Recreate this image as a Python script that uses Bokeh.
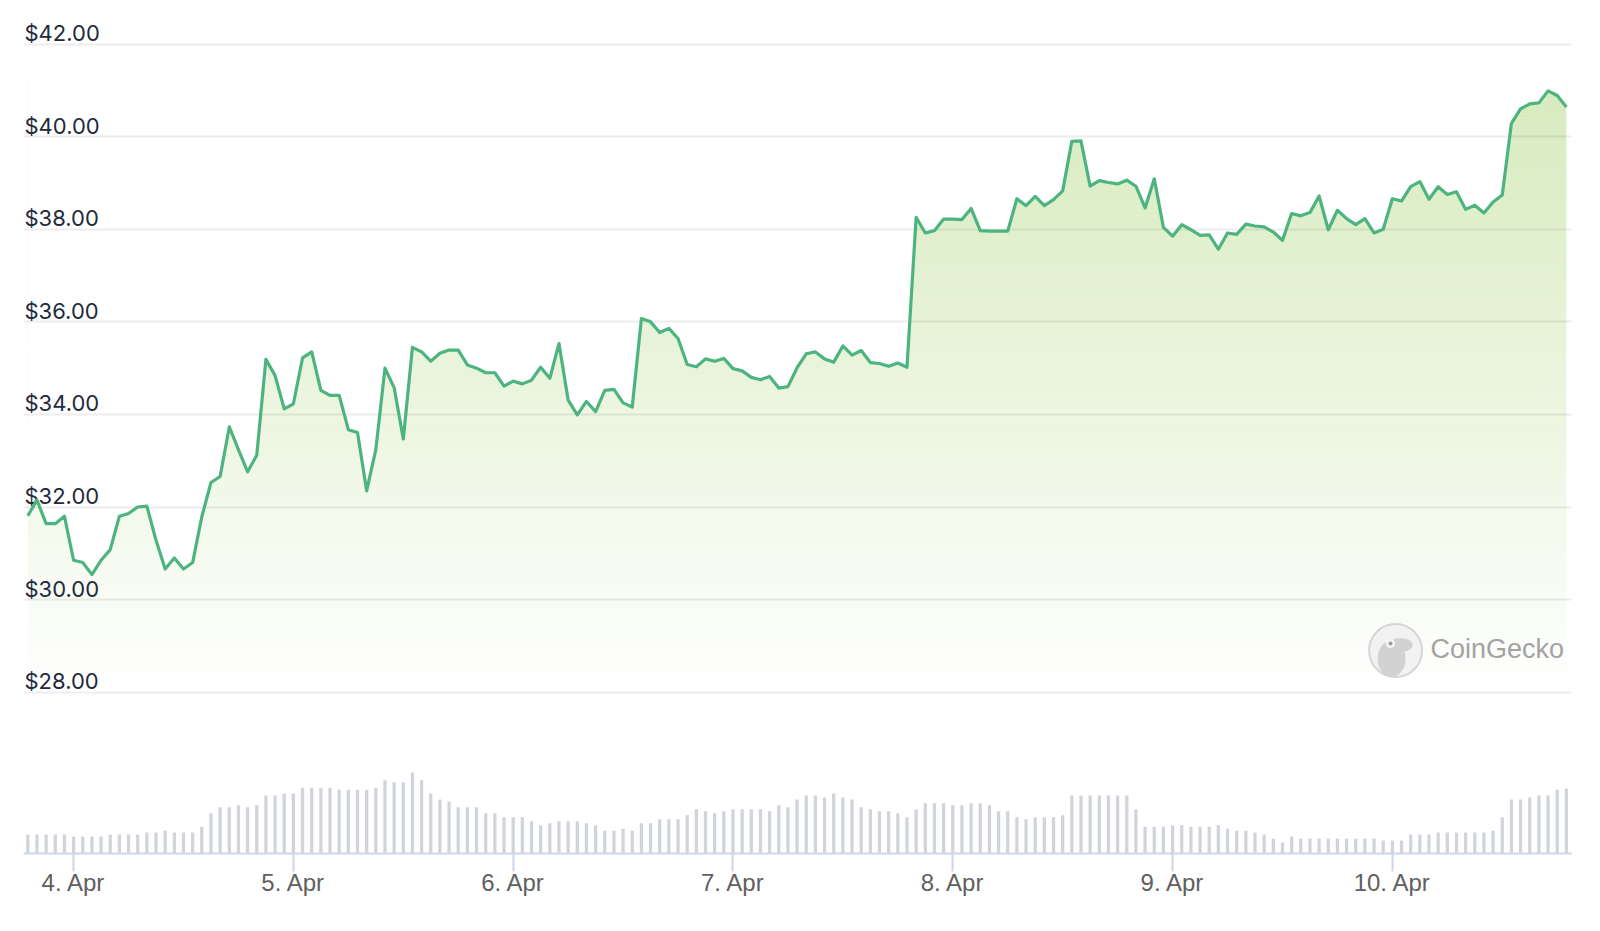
import pandas as pd
from bokeh.plotting import figure
from bokeh.models import Range1d, Grid, FixedTicker, DaysTicker, DatetimeTickFormatter
from bokeh.core.properties import value
from bokeh.embed import file_html
from bokeh.resources import INLINE

# ---------------- data (hourly, 3 Apr 19:00 -> 10 Apr 19:00) ----------------
start_time = "2024-04-03 19:00"

prices = [
    31.81, 32.15, 31.64, 31.64, 31.80, 30.85, 30.80, 30.54, 30.85, 31.08,
    31.80, 31.86, 32.00, 32.02, 31.28, 30.66, 30.90, 30.66, 30.80, 31.79,
    32.53, 32.66, 33.73, 33.24, 32.76, 33.12, 35.19, 34.84, 34.12, 34.23,
    35.22, 35.35, 34.52, 34.41, 34.41, 33.67, 33.61, 32.35, 33.24, 35.00,
    34.58, 33.47, 35.45, 35.35, 35.15, 35.32, 35.39, 35.39,
    35.07, 35.00, 34.90, 34.90, 34.61, 34.72, 34.66, 34.74, 35.02, 34.78,
    35.53, 34.31, 33.99, 34.28, 34.06, 34.52, 34.54, 34.25, 34.16, 36.07,
    36.00, 35.77, 35.86, 35.64, 35.08, 35.03, 35.20, 35.15, 35.21, 34.99,
    34.94, 34.80, 34.75, 34.82, 34.57, 34.60, 35.01, 35.31, 35.35, 35.20,
    35.13, 35.48, 35.28, 35.38, 35.12, 35.10, 35.04, 35.11, 35.02,
    38.26, 37.92, 37.97, 38.22, 38.22, 38.21, 38.45, 37.97, 37.96, 37.96,
    37.96, 38.66, 38.51, 38.71, 38.51, 38.64, 38.83, 39.90, 39.91, 38.93,
    39.05, 39.01, 38.98, 39.06, 38.93, 38.46, 39.09, 38.04, 37.85, 38.10,
    37.99, 37.87, 37.88, 37.57, 37.92, 37.89, 38.11, 38.07, 38.05, 37.94,
    37.76, 38.34, 38.29, 38.36, 38.72, 37.99, 38.41, 38.23, 38.10, 38.23,
    37.92, 38.00, 38.66, 38.61, 38.92, 39.03, 38.65, 38.92, 38.75, 38.81,
    38.43, 38.52, 38.35, 38.59, 38.74,
    40.29, 40.60, 40.71, 40.73, 40.99, 40.89, 40.64,
]

volumes = [
    57, 57, 57, 57, 57, 51, 51, 51, 51, 57,
    57, 57, 57, 63, 63, 69, 63, 63, 63, 80,
    121, 139, 139, 145, 139, 145, 174, 174, 180, 180,
    197, 197, 197, 197, 191, 191, 191, 191, 197, 220,
    214, 214, 243, 220, 180, 162, 156, 139, 139, 139,
    121, 121, 109, 109, 109, 97, 85,
    91, 97, 97, 97, 91, 85, 68, 68, 74, 68,
    91, 91, 103, 103, 103, 115, 133, 127, 121, 127,
    133, 133, 133, 133, 127, 145, 139, 162, 174, 174,
    168, 180, 168, 162, 139, 133, 127, 127, 121, 109,
    133, 151, 151, 151, 145, 145, 151, 151, 145, 127,
    127, 109, 103, 109, 109, 109,
    115, 174, 174, 174, 174, 174, 174, 174, 133, 80,
    80, 80, 85, 85, 80, 80, 80, 85, 74, 68,
    68, 63, 57, 45, 33, 51, 45, 45, 45, 45,
    45, 45, 45, 45, 45, 39, 39, 39, 57, 57,
    57, 63, 63, 63, 63, 63, 63, 68, 109, 162,
    162, 168, 174, 174, 191, 195,
]

y_ticks = [28, 30, 32, 34, 36, 38, 40, 42]
y_tick_labels = ["$28.00", "$30.00", "$32.00", "$34.00", "$36.00", "$38.00", "$40.00", "$42.00"]

# ---------------- figure ----------------
start = pd.Timestamp(start_time)
hour = pd.Timedelta(hours=1)
times = pd.date_range(start, periods=len(prices), freq="h")

x_left = start - 0.47 * hour
x_right = start + 168.56 * hour
y_bottom, y_top = 24.515, 42.510

p = figure(width=1596, height=928, x_axis_type="datetime", y_axis_location=None,
           x_range=Range1d(x_left, x_right), y_range=Range1d(y_bottom, y_top),
           output_backend="svg", toolbar_location=None,
           min_border_left=23, min_border_right=25, min_border_top=20, min_border_bottom=75)
p.outline_line_color = None
p.background_fill_color = "white"
p.border_fill_color = "white"
p.grid.visible = False

grid = Grid(dimension=1, ticker=FixedTicker(ticks=y_ticks),
            grid_line_color="#000000", grid_line_alpha=0.07, grid_line_width=2)
p.add_layout(grid)

# gradient fill under the line: horizontal bands masked by white above the line
fill_base = 28.0
fill_top = 41.2
n_bands = 132
step = (fill_top - fill_base) / n_bands
band_bottoms = [fill_base + k * step for k in range(n_bands)]
band_tops = [b + step for b in band_bottoms]
band_alpha = [0.36 * ((b + step / 2) - fill_base) / (fill_top - fill_base) for b in band_bottoms]
p.quad(left=[times[0]] * n_bands, right=[times[-1]] * n_bands,
       bottom=band_bottoms, top=band_tops,
       fill_color="#8dc647", fill_alpha=band_alpha, line_color=None, level="image")
p.varea(x=times, y1=prices, y2=[y_top] * len(prices), fill_color="white", level="image")

# volume bars
p.extra_y_ranges = {"vol": Range1d(0, 833 * 3)}
p.vbar(x=times, top=volumes, width=0.36 * 3600 * 1000, y_range_name="vol",
       fill_color="#d1d5db", line_color=None)

# y tick labels (above grid lines, inside plot)
p.text(x=[x_left] * len(y_ticks), y=y_ticks, text=y_tick_labels,
       x_offset=1, y_offset=-11, text_baseline="alphabetic", text_align="left",
       text_font=value("Inter"), text_font_size="22px", text_color="#232a3b")

# watermark
p.scatter(x=[start + 149.35 * hour], y=[28.90], size=53, fill_color="#f2f2f2",
          line_color="#d6d6d6", line_width=2)
p.ellipse(x=[start + 148.91 * hour], y=[28.72], width=28, height=36,
          width_units="screen", height_units="screen", fill_color="#d2d2d2", line_color=None)
p.ellipse(x=[start + 149.9 * hour], y=[29.02], width=24, height=14,
          width_units="screen", height_units="screen", fill_color="#d2d2d2", line_color=None)
p.scatter(x=[start + 148.8 * hour], y=[29.05], size=9, fill_color="#f6f6f6", line_color=None)
p.scatter(x=[start + 148.8 * hour], y=[29.05], size=4, fill_color="#9a9a9a", line_color=None)
p.text(x=[start + 153.17 * hour], y=[28.756], text=["CoinGecko"],
       y_offset=-8, text_baseline="alphabetic", text_align="left",
       text_font=value("Liberation Sans"), text_font_size="27px", text_color="#a3a3a3")

# price line
p.line(times, prices, line_color="#4db480", line_width=3.2, line_join="round")

# x axis
ax = p.xaxis[0]
ax.ticker = DaysTicker(days=list(range(1, 32)))
ax.formatter = DatetimeTickFormatter(days="%-d. %b", months="%-d. %b", hours="%-d. %b")
ax.axis_line_color = "#ccd6eb"
ax.axis_line_width = 2
ax.major_tick_line_color = "#ccd6eb"
ax.major_tick_line_width = 2
ax.major_tick_out = 18
ax.major_tick_in = 0
ax.minor_tick_line_color = None
ax.major_label_text_font = "Liberation Sans"
ax.major_label_text_font_size = "24px"
ax.major_label_text_color = "#606060"
ax.major_label_standoff = -3

open("out.html", "w").write(file_html(p, INLINE))
